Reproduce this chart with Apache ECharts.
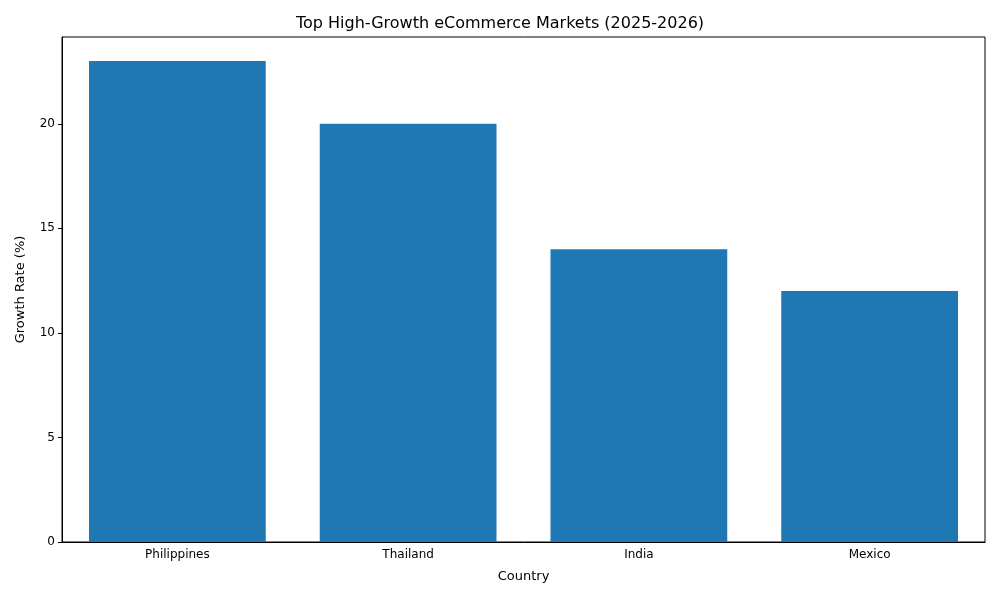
<!DOCTYPE html>
<html>
<head>
<meta charset="UTF-8">
<script src="https://cdn.jsdelivr.net/npm/echarts@6/dist/echarts.min.js"></script>
<style>body{margin:0}#c{width:1000px;height:600px}</style>
</head>
<body>
<div id="c"></div>
<script>
var countries = ['Philippines', 'Thailand', 'India', 'Mexico'];
var growth = [23, 20, 14, 12];

var chart = echarts.init(document.getElementById('c'));
chart.setOption({
  animation: false,
  textStyle: { fontFamily: 'DejaVu Sans' },
  title: {
    text: 'Top High-Growth eCommerce Markets (2025-2026)',
    left: 'center', top: 11,
    textStyle: { fontSize: 16, fontWeight: 'normal', color: '#000', fontFamily: 'DejaVu Sans' }
  },
  grid: { left: 62, right: 15, top: 37, bottom: 58, show: true, borderColor: '#000', borderWidth: 1 },
  xAxis: {
    type: 'category', data: countries, name: 'Country', nameLocation: 'middle', nameGap: 28,
    nameTextStyle: { fontSize: 13, color: '#000' },
    axisLine: { lineStyle: { color: '#000' } },
    axisTick: { alignWithLabel: true, length: 4, lineStyle: { color: '#000' } },
    axisLabel: { fontSize: 12, color: '#000', margin: 7 }
  },
  yAxis: {
    type: 'value', min: 0, max: 24.15, interval: 5, name: 'Growth Rate (%)', nameLocation: 'middle', nameGap: 35,
    nameTextStyle: { fontSize: 13, color: '#000' },
    splitLine: { show: false },
    axisLine: { show: true, lineStyle: { color: '#000' } },
    axisTick: { show: true, length: 4, lineStyle: { color: '#000' } },
    axisLabel: { fontSize: 12, color: '#000', showMaxLabel: false, margin: 7 }
  },
  series: [{
    type: 'bar', data: growth, barWidth: '76.6%',
    itemStyle: { color: '#1f77b4' }
  }]
});
</script>
</body>
</html>
